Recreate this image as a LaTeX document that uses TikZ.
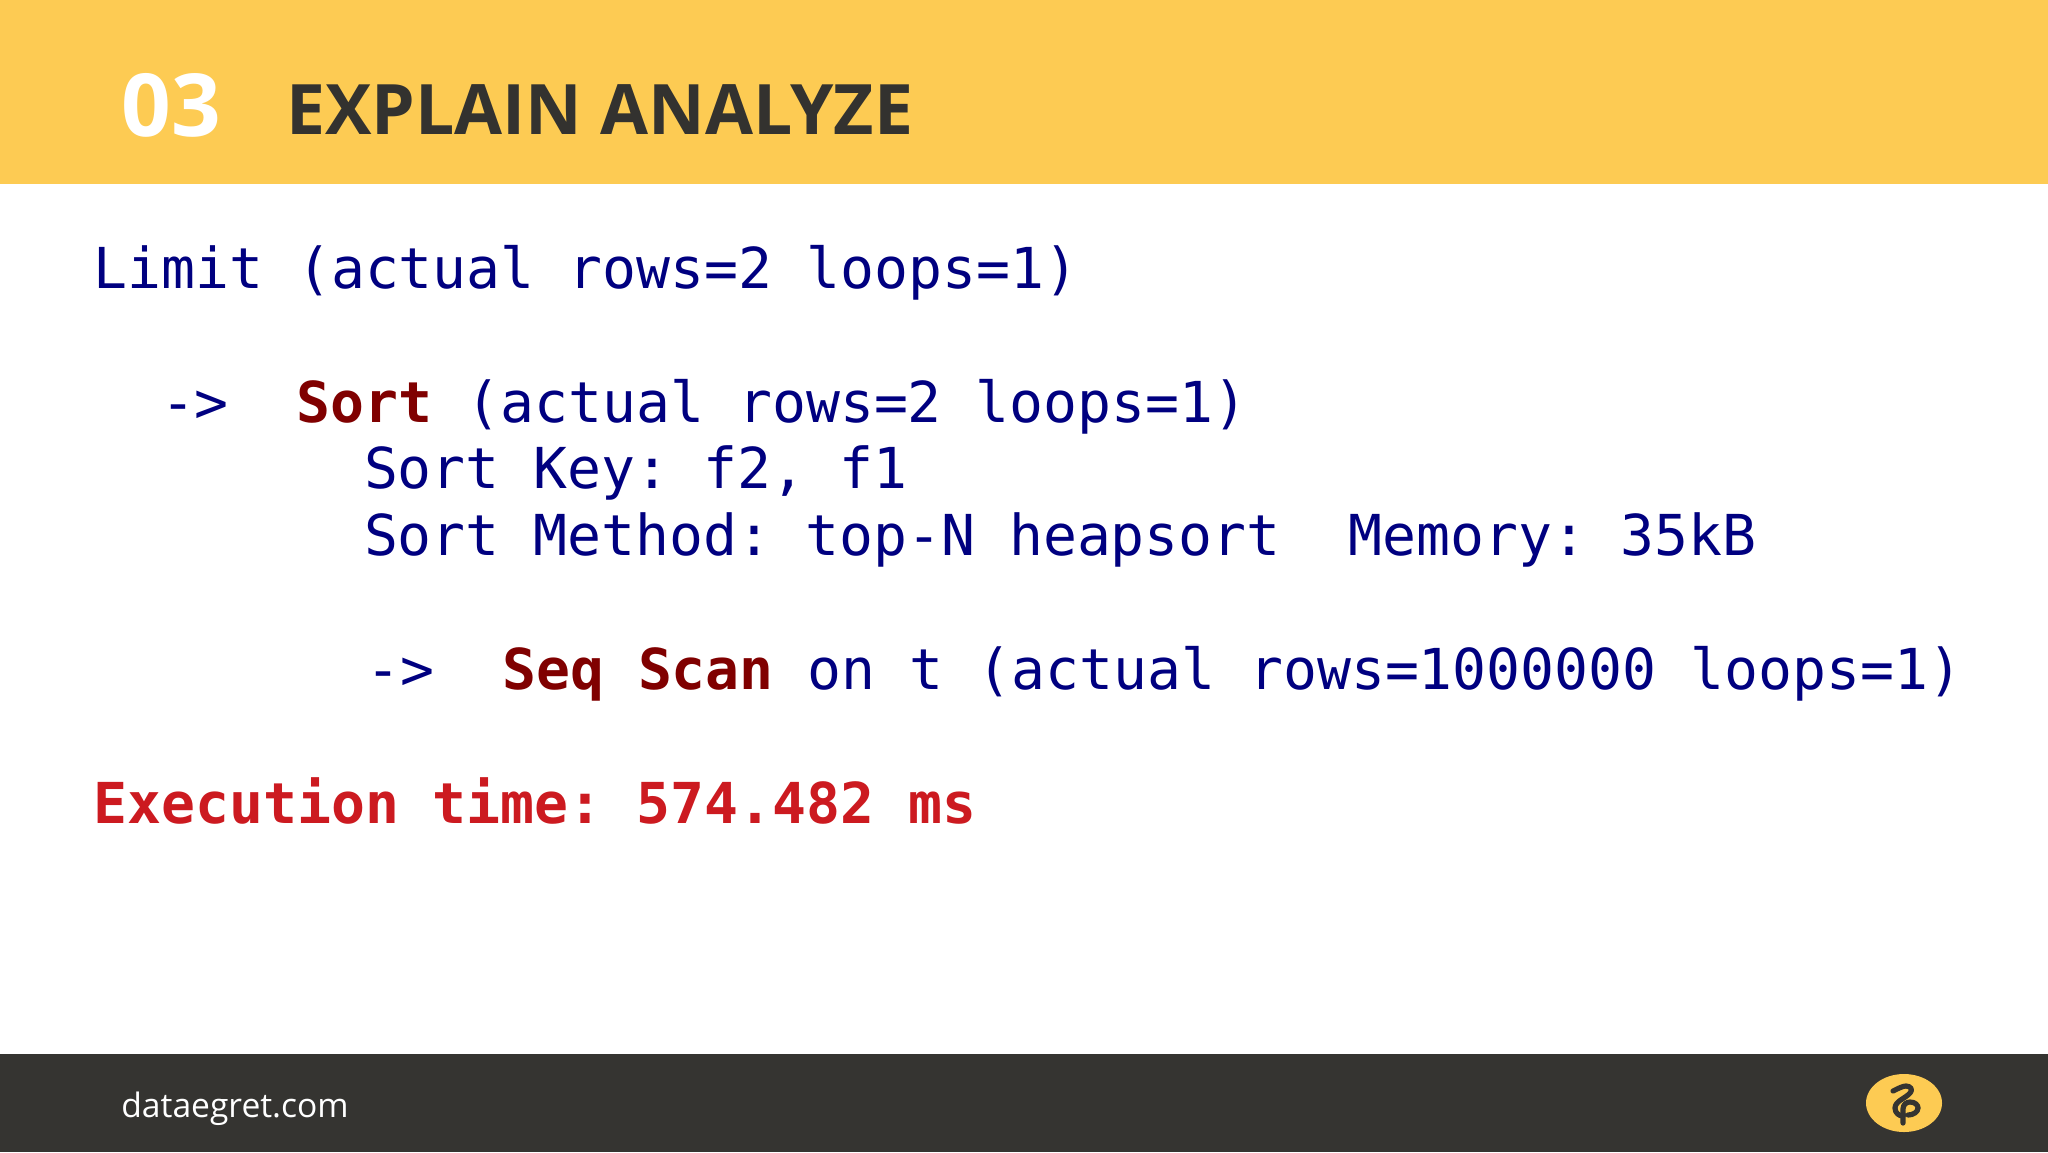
\documentclass[tikz,border=0pt]{standalone}
\usepackage{fontspec}
\setmainfont{Open Sans}
\setmonofont{DejaVu Sans Mono}
\definecolor{bandyellow}{HTML}{FDCB53}
\definecolor{footdark}{HTML}{353431}
\definecolor{titledark}{HTML}{33322F}
\definecolor{planblue}{HTML}{000080}
\definecolor{keyred}{HTML}{800000}
\definecolor{timered}{HTML}{CC1A20}
\tikzset{
  codeline/.style={anchor=base west,inner sep=0pt,text=planblue,font=\ttfamily\fontsize{28.2}{28.2}\selectfont},
  timeline/.style={codeline,text=timered,font=\ttfamily\bfseries\fontsize{28.2}{28.2}\selectfont},
  heading/.style={anchor=base west,inner sep=0pt,font=\bfseries\fontsize{34.8}{34.8}\selectfont},
  bignumber/.style={anchor=base west,inner sep=0pt,text=white,font=\bfseries\fontsize{43.5}{43.5}\selectfont},
  sitename/.style={anchor=base west,inner sep=0pt,text=white,font=\fontsize{16.8}{16.8}\selectfont}
}
\newcommand{\keyword}[1]{{\bfseries\color{keyred}#1}}
\begin{document}
\begin{tikzpicture}[x=0.5pt,y=-0.5pt]
      \useasboundingbox (0,0) rectangle (2048,1152);
      \fill[white] (0,0) rectangle (2048,1152);
      \fill[bandyellow] (0,0) rectangle (2048,184);
      \fill[footdark] (0,1054) rectangle (2048,1152);
      \node[bignumber] (number) at (121,136) {03};
      \node[heading,text=titledark] (title) at (286,134) {EXPLAIN ANALYZE};
      \node[codeline] (limit) at (93,288.5) {Limit (actual rows=2 loops=1)};
      \node[codeline] (sort) at (160.6,422) {->\ \ \keyword{Sort} (actual rows=2 loops=1)};
      \node[codeline] (sortkey) at (363.6,488.5) {Sort Key: f2, f1};
      \node[codeline] (sortmethod) at (363.6,555.5) {Sort Method: top-N heapsort\ \ Memory: 35kB};
      \node[codeline] (seqscan) at (366,689) {->\ \ \keyword{Seq Scan} on t (actual rows=1000000 loops=1)};
      \node[timeline] (exectime) at (93,823) {Execution time: 574.482 ms};
      \node[sitename] (site) at (121,1117.5) {dataegret.com};
      \fill[bandyellow] (1904,1103) ellipse [x radius=38,y radius=29];
      \draw[footdark,line width=2.6pt,line cap=round,line join=round]
        (1893,1091) .. controls (1899,1088) and (1903,1086) .. (1906,1086)
        .. controls (1911,1086) and (1913,1090) .. (1910,1093)
        .. controls (1906,1098) and (1895,1101) .. (1895,1108)
        .. controls (1895,1113) and (1899,1116) .. (1903,1116);
      \draw[footdark,line width=2.6pt,line cap=round,line join=round]
        (1903,1123) -- (1903,1109)
        .. controls (1903,1104) and (1907,1102) .. (1910,1102)
        .. controls (1915,1102) and (1918,1105) .. (1918,1108)
        .. controls (1918,1112) and (1913,1115) .. (1908,1115);
    \end{tikzpicture}
\end{document}
